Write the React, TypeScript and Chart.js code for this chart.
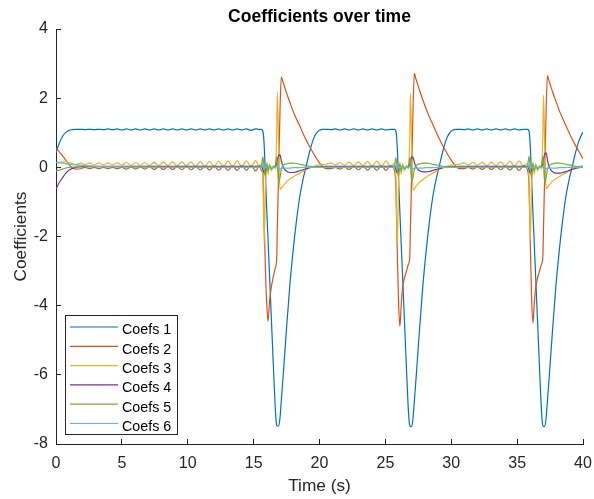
import { useEffect, useRef } from "react";
import { Chart, registerables } from "chart.js";

Chart.register(...registerables);

// Sample times (s) for the three dominant coefficients
const timeMain = [
  // start-up
  0, 0.25, 0.5, 0.75, 1, 1.25, 1.5,
  // steady segment 1
  1.85, 2.2, 2.55, 2.9, 3.25, 3.6, 3.95, 4.3, 4.65, 5, 5.35, 5.7, 6.05, 6.4, 6.75, 7.1, 7.45, 7.8, 8.15, 8.5,
  8.85, 9.2, 9.55, 9.9, 10.25, 10.6, 10.95, 11.3, 11.65, 12, 12.35, 12.7, 13.05, 13.4, 13.75, 14.1, 14.45, 14.8,
  15.15, 15.45,
  // switching event 1
  15.6, 15.7, 15.8, 15.9, 16, 16.1, 16.2, 16.35, 16.5, 16.65, 16.75, 16.8, 16.9, 17, 17.1, 17.2, 17.35, 17.5,
  17.75, 18, 18.25, 18.5, 18.75, 19, 19.25, 19.5, 19.75, 20, 20.25, 20.5,
  // steady segment 2
  20.85, 21.2, 21.55, 21.9, 22.25, 22.6, 22.95, 23.3, 23.65, 24, 24.35, 24.7, 25.05, 25.4,
  // switching event 2
  25.7, 25.8, 25.9, 26, 26.1, 26.2, 26.3, 26.45, 26.6, 26.75, 26.85, 26.9, 27, 27.1, 27.2, 27.3, 27.45, 27.6,
  27.85, 28.1, 28.35, 28.6, 28.85, 29.1, 29.35, 29.6, 29.85, 30.1, 30.35, 30.6,
  // steady segment 3
  30.95, 31.3, 31.65, 32, 32.35, 32.7, 33.05, 33.4, 33.75, 34.1, 34.45, 34.8, 35.15, 35.5,
  // switching event 3
  35.8, 35.9, 36, 36.1, 36.2, 36.3, 36.4, 36.55, 36.7, 36.85, 36.95, 37, 37.1, 37.2, 37.3, 37.4, 37.55, 37.7,
  37.95, 38.2, 38.45, 38.7, 38.95, 39.2, 39.45, 39.7, 40,
];

const coefs1 = [
  0.42, 0.7, 0.9, 1.01, 1.07, 1.09, 1.1,
  1.1, 1.09, 1.1, 1.09, 1.1, 1.09, 1.11, 1.09, 1.11, 1.08, 1.11, 1.08, 1.11, 1.08, 1.11, 1.08, 1.11, 1.08, 1.11, 1.08,
  1.11, 1.08, 1.11, 1.08, 1.11, 1.08, 1.11, 1.08, 1.11, 1.08, 1.11, 1.08, 1.11, 1.08, 1.11, 1.08, 1.11, 1.07,
  1.11, 1.1,
  1.1, 1.05, 0.65, -0.3, -1.25, -2.15, -3.05, -4.4, -5.75, -7.0, -7.46, -7.48, -7.48, -7.25, -6.75, -6.25, -5.45, -4.65,
  -3.4, -2.4, -1.55, -0.85, -0.35, 0.05, 0.45, 0.78, 0.98, 1.07, 1.1, 1.1,
  1.09, 1.11, 1.08, 1.11, 1.08, 1.11, 1.08, 1.11, 1.08, 1.11, 1.08, 1.11, 1.08, 1.1,
  1.1, 1.05, 0.6, -0.35, -1.3, -2.2, -3.1, -4.45, -5.8, -7.05, -7.47, -7.49, -7.49, -7.25, -6.75, -6.25, -5.45, -4.65,
  -3.4, -2.4, -1.55, -0.85, -0.35, 0.05, 0.45, 0.78, 0.98, 1.07, 1.1, 1.1,
  1.09, 1.11, 1.08, 1.11, 1.08, 1.11, 1.08, 1.11, 1.08, 1.11, 1.08, 1.11, 1.08, 1.1,
  1.1, 1.05, 0.6, -0.35, -1.3, -2.2, -3.1, -4.45, -5.8, -7.05, -7.47, -7.49, -7.49, -7.25, -6.75, -6.25, -5.45, -4.65,
  -3.4, -2.4, -1.55, -0.85, -0.35, 0.05, 0.45, 0.78, 1.02,
];

const coefs2 = [
  0.55, 0.45, 0.33, 0.2, 0.07, -0.02, -0.05,
  -0.04, 0, -0.04, 0, -0.04, 0, -0.04, 0, -0.04, 0, -0.05, 0.01, -0.05, 0.01, -0.05, 0.02, -0.06, 0.02, -0.06, 0.02,
  -0.06, 0.02, -0.07, 0.03, -0.07, 0.03, -0.07, 0.03, -0.08, 0.04, -0.08, 0.04, -0.08, 0.04, -0.09, 0.05, -0.09, 0.05,
  -0.1, 0.05,
  -0.1, -0.15, -1.5, -3.0, -4.0, -4.45, -3.9, -3.45, -3.15, -2.9, -2.65, -1.75, -0.1, 1.6, 2.62, 2.5, 2.33, 2.15,
  1.88, 1.62, 1.4, 1.2, 0.98, 0.78, 0.6, 0.43, 0.27, 0.13, 0.02, -0.04,
  -0.04, 0, -0.05, 0.01, -0.06, 0.02, -0.07, 0.03, -0.08, 0.04, -0.08, 0.04, -0.09, 0.05,
  -0.1, -0.6, -2.4, -3.9, -4.6, -4.0, -3.5, -3.2, -3.0, -2.8, -2.6, -1.8, -0.1, 1.7, 2.72, 2.58, 2.4, 2.22,
  1.94, 1.68, 1.45, 1.24, 1.02, 0.82, 0.63, 0.46, 0.3, 0.15, 0.03, -0.04,
  -0.04, 0, -0.05, 0.01, -0.06, 0.02, -0.06, 0.02, -0.07, 0.03, -0.08, 0.04, -0.09, 0.05,
  -0.1, -0.5, -2.2, -3.8, -4.5, -3.95, -3.5, -3.2, -3.0, -2.8, -2.6, -1.8, -0.1, 1.65, 2.65, 2.52, 2.35, 2.17,
  1.9, 1.64, 1.42, 1.21, 1.0, 0.8, 0.62, 0.45, 0.25,
];

const coefs3 = [
  0.14, 0.15, 0.15, 0.15, 0.14, 0.11, 0.08,
  0.12, 0.08, 0.13, 0.07, 0.13, 0.07, 0.13, 0.07, 0.13, 0.07, 0.14, 0.06, 0.14, 0.06, 0.14, 0.05, 0.15, 0.05, 0.15, 0.05,
  0.16, 0.04, 0.16, 0.04, 0.16, 0.03, 0.17, 0.03, 0.17, 0.03, 0.18, 0.02, 0.18, 0.02, 0.19, 0.01, 0.19, 0.01,
  0.2, 0,
  0.12, -0.25, -2.2, -0.6, 0.15, -0.2, 0.1, -0.1, 0.05, -0.05, 1.0, 2.17, 0.6, -0.64, -0.6, -0.55, -0.48, -0.42,
  -0.34, -0.28, -0.22, -0.17, -0.11, -0.06, -0.02, 0.02, 0.05, 0.07, 0.08, 0.09,
  0.13, 0.07, 0.14, 0.06, 0.15, 0.05, 0.16, 0.04, 0.17, 0.03, 0.18, 0.02, 0.19, 0,
  0.12, -0.3, -2.2, -0.5, 0.15, -0.2, 0.1, -0.1, 0.05, -0.05, 0.9, 2.14, 0.55, -0.66, -0.62, -0.56, -0.49, -0.43,
  -0.35, -0.28, -0.22, -0.17, -0.11, -0.06, -0.02, 0.02, 0.05, 0.07, 0.08, 0.09,
  0.13, 0.07, 0.14, 0.06, 0.15, 0.05, 0.15, 0.05, 0.16, 0.04, 0.18, 0.02, 0.19, 0,
  0.12, -0.3, -2.1, -0.5, 0.15, -0.2, 0.1, -0.1, 0.05, -0.05, 0.9, 2.08, 0.55, -0.62, -0.58, -0.53, -0.46, -0.4,
  -0.33, -0.27, -0.21, -0.16, -0.1, -0.05, -0.01, 0.02, 0.05,
];

// Sample times (s) for the three small coefficients
const timeAux = [
  0, 0.25, 0.5, 0.75, 1, 1.25, 1.5, 2, 2.5, 3, 4, 6, 10, 14, 15.3,
  15.5, 15.6, 15.7, 15.8, 15.9, 16, 16.1, 16.2, 16.35, 16.5, 16.65, 16.75, 16.8, 16.9, 17, 17.1, 17.2, 17.35, 17.5,
  17.75, 18, 18.25, 18.5, 18.75, 19, 19.25, 19.5, 20, 20.5,
  23, 25.4,
  25.6, 25.7, 25.8, 25.9, 26, 26.1, 26.2, 26.3, 26.45, 26.6, 26.75, 26.85, 26.9, 27, 27.1, 27.2, 27.3, 27.45, 27.6,
  27.85, 28.1, 28.35, 28.6, 28.85, 29.1, 29.35, 29.6, 30.1, 30.6,
  33, 35.5,
  35.7, 35.8, 35.9, 36, 36.1, 36.2, 36.3, 36.4, 36.55, 36.7, 36.85, 36.95, 37, 37.1, 37.2, 37.3, 37.4, 37.55, 37.7,
  37.95, 38.2, 38.45, 38.7, 38.95, 39.2, 39.45, 39.7, 40,
];

const coefs4 = [
  -0.62, -0.44, -0.3, -0.17, -0.08, -0.03, 0, 0.02, 0.03, 0.03, 0.03, 0.03, 0.03, 0.03, 0.03,
  0.03, 0.02, -0.05, -0.17, -0.1, 0.05, -0.05, 0.02, -0.02, 0, 0.02, 0.1, 0.2, 0.35, 0.36, 0.2, 0.05, -0.06, -0.11,
  -0.15, -0.15, -0.13, -0.1, -0.07, -0.04, -0.01, 0.01, 0.02, 0.03,
  0.03, 0.03,
  0.03, 0.02, -0.05, -0.16, -0.1, 0.05, -0.05, 0.02, -0.02, 0, 0.02, 0.08, 0.18, 0.3, 0.28, 0.15, 0.03, -0.06, -0.1,
  -0.13, -0.13, -0.12, -0.09, -0.06, -0.04, -0.01, 0.01, 0.02, 0.03,
  0.03, 0.03,
  0.03, 0.02, -0.05, -0.18, -0.1, 0.05, -0.05, 0.02, -0.02, 0, 0.02, 0.1, 0.22, 0.4, 0.42, 0.22, 0.05, -0.07, -0.13,
  -0.17, -0.17, -0.15, -0.12, -0.09, -0.06, -0.03, -0.01, 0,
];

const coefs5 = [
  -0.1, -0.08, -0.05, -0.02, 0, 0.01, 0.01, 0.01, 0.01, 0.01, 0.01, 0.01, 0.01, 0.01, 0.01,
  0.01, 0.05, 0.3, -0.05, -0.25, 0.1, -0.1, 0.05, -0.03, 0, 0.05, 0.3, 0.1, -0.45, -0.3, -0.05, 0.04, 0.08, 0.1,
  0.12, 0.12, 0.11, 0.09, 0.07, 0.05, 0.03, 0.02, 0.01, 0.01,
  0.01, 0.01,
  0.01, 0.05, 0.28, -0.05, -0.25, 0.1, -0.1, 0.05, -0.03, 0, 0.05, 0.28, 0.1, -0.4, -0.28, -0.05, 0.04, 0.08, 0.1,
  0.12, 0.12, 0.11, 0.09, 0.07, 0.05, 0.03, 0.02, 0.01, 0.01,
  0.01, 0.01,
  0.01, 0.05, 0.32, -0.05, -0.28, 0.1, -0.1, 0.05, -0.03, 0, 0.05, 0.32, 0.1, -0.45, -0.3, -0.05, 0.04, 0.08, 0.1,
  0.12, 0.12, 0.11, 0.09, 0.07, 0.05, 0.03, 0.02, 0.01,
];

const coefs6 = [
  0.14, 0.13, 0.12, 0.1, 0.09, 0.08, 0.07, 0.05, 0.04, 0.03, 0.02, 0.01, 0, 0, 0,
  0, 0, 0.05, -0.05, 0.02, -0.02, 0.01, 0, 0, 0, 0, 0.02, 0.05, -0.05, -0.04, -0.03, -0.03, -0.02, -0.02,
  -0.02, -0.01, -0.01, -0.01, 0, 0, 0, 0, 0, 0,
  0, 0,
  0, 0, 0.05, -0.05, 0.02, -0.02, 0.01, 0, 0, 0, 0, 0.02, 0.05, -0.05, -0.04, -0.03, -0.03, -0.02, -0.02,
  -0.02, -0.01, -0.01, -0.01, 0, 0, 0, 0, 0, 0,
  0, 0,
  0, 0, 0.05, -0.05, 0.02, -0.02, 0.01, 0, 0, 0, 0, 0.02, 0.05, -0.05, -0.04, -0.03, -0.03, -0.02, -0.02,
  -0.02, -0.01, -0.01, -0.01, 0, 0, 0, 0, 0,
];

const seriesNames = ["Coefs 1", "Coefs 2", "Coefs 3", "Coefs 4", "Coefs 5", "Coefs 6"];
const seriesColors = ["#0072BD", "#D95319", "#EDB120", "#7E2F8E", "#77AC30", "#4DBEEE"];

const xRange = [0, 40];
const xStep = 5;
const yRange = [-8, 4];
const yStep = 2;

const chartTitle = "Coefficients over time";
const xTitle = "Time (s)";
const yTitle = "Coefficients";

const FONT = '"Liberation Sans", Arial, Helvetica, sans-serif';
const AXIS_COLOR = "#262626";

function toPoints(times: number[], values: number[]) {
  const n = Math.min(times.length, values.length);
  const pts: { x: number; y: number }[] = [];
  for (let i = 0; i < n; i++) pts.push({ x: times[i], y: values[i] });
  return pts;
}

// Title, axis labels and the boxed legend in the lower-left corner
const figureText = {
  id: "figureText",
  afterDraw(chart: any) {
    const { ctx, chartArea } = chart;
    const cx = (chartArea.left + chartArea.right) / 2;
    const cy = (chartArea.top + chartArea.bottom) / 2;
    ctx.save();

    ctx.fillStyle = "#000000";
    ctx.textAlign = "center";
    ctx.textBaseline = "alphabetic";
    ctx.font = `bold 17.5px ${FONT}`;
    ctx.fillText(chartTitle, cx, 21.5);

    ctx.fillStyle = AXIS_COLOR;
    ctx.font = `17.3px ${FONT}`;
    ctx.fillText(xTitle, cx, 491);

    ctx.save();
    ctx.translate(26, cy);
    ctx.rotate(-Math.PI / 2);
    ctx.fillText(yTitle, 0, 0);
    ctx.restore();

    // legend
    const boxL = chartArea.left + 9.5;
    const boxR = 177.5;
    const boxT = 315.5;
    const boxB = chartArea.bottom - 9.5;
    ctx.fillStyle = "#ffffff";
    ctx.fillRect(boxL, boxT, boxR - boxL, boxB - boxT);
    ctx.strokeStyle = AXIS_COLOR;
    ctx.lineWidth = 1;
    ctx.strokeRect(boxL, boxT, boxR - boxL, boxB - boxT);

    ctx.font = `14.3px ${FONT}`;
    ctx.textAlign = "left";
    ctx.textBaseline = "alphabetic";
    chart.data.datasets.forEach((ds: any, i: number) => {
      const y = 327 + i * 19.3;
      ctx.strokeStyle = ds.borderColor;
      ctx.lineWidth = 1.2;
      ctx.beginPath();
      ctx.moveTo(boxL + 4.5, y);
      ctx.lineTo(boxL + 52.5, y);
      ctx.stroke();
      ctx.fillStyle = "#000000";
      ctx.fillText(ds.label, 122, y + 7.3);
    });

    ctx.restore();
  },
};

function clearOverhang(scale: any) {
  scale.paddingLeft = 0;
  scale.paddingRight = 0;
  scale.paddingTop = 0;
  scale.paddingBottom = 0;
}

export default function App() {
  const canvasRef = useRef<HTMLCanvasElement>(null);

  useEffect(() => {
    const canvas = canvasRef.current;
    if (!canvas) return;

    const series = [
      toPoints(timeMain, coefs1),
      toPoints(timeMain, coefs2),
      toPoints(timeMain, coefs3),
      toPoints(timeAux, coefs4),
      toPoints(timeAux, coefs5),
      toPoints(timeAux, coefs6),
    ];

    const chart = new Chart(canvas, {
      type: "line",
      data: {
        datasets: series.map((pts, i) => ({
          label: seriesNames[i],
          data: pts,
          borderColor: seriesColors[i],
          backgroundColor: seriesColors[i],
          borderWidth: 1.2,
          pointRadius: 0,
          fill: false,
          cubicInterpolationMode: "monotone" as const,
          order: seriesNames.length - i,
        })),
      },
      options: {
        responsive: false,
        animation: false,
        devicePixelRatio: 1,
        layout: { padding: { top: 29, right: 11, left: 0, bottom: 0 } },
        plugins: {
          legend: { display: false },
          title: { display: false },
          tooltip: { enabled: false },
        },
        scales: {
          x: {
            type: "linear",
            min: xRange[0],
            max: xRange[1],
            ticks: {
              stepSize: xStep,
              padding: 15,
              color: AXIS_COLOR,
              maxRotation: 0,
              font: { family: FONT, size: 16 },
            },
            grid: {
              drawOnChartArea: false,
              tickLength: -5,
              color: AXIS_COLOR,
              lineWidth: 1,
            },
            border: { color: AXIS_COLOR, width: 1 },
            afterFit(scale: any) {
              scale.height = 55;
              clearOverhang(scale);
            },
          },
          y: {
            type: "linear",
            min: yRange[0],
            max: yRange[1],
            ticks: {
              stepSize: yStep,
              padding: 13,
              color: AXIS_COLOR,
              font: { family: FONT, size: 16 },
            },
            grid: {
              drawOnChartArea: false,
              tickLength: -5,
              color: AXIS_COLOR,
              lineWidth: 1,
            },
            border: { color: AXIS_COLOR, width: 1 },
            afterFit(scale: any) {
              scale.width = 56;
              clearOverhang(scale);
            },
          },
        },
      },
      plugins: [figureText],
    });

    return () => chart.destroy();
  }, []);

  return (
    <div style={{ position: "fixed", left: 0, top: 0, width: 594, height: 499, background: "#ffffff" }}>
      <canvas ref={canvasRef} width={594} height={499} style={{ display: "block" }} />
    </div>
  );
}
